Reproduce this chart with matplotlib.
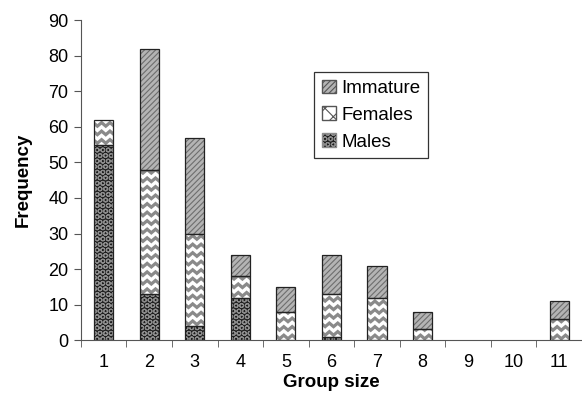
import numpy as np
import matplotlib.pyplot as plt
from matplotlib.lines import Line2D
from matplotlib.patches import Patch

plt.rcParams['font.family'] = ['Liberation Sans', 'DejaVu Sans']
plt.rcParams['hatch.linewidth'] = 0.8

groups = [1, 2, 3, 4, 5, 6, 7, 8, 9, 10, 11]
males = [55, 13, 4, 12, 0, 1, 0, 0, 0, 0, 0]
females = [7, 35, 26, 6, 8, 12, 12, 3, 0, 0, 6]
immature = [0, 34, 27, 6, 7, 11, 9, 5, 0, 0, 5]

x = np.array(groups)
m = np.array(males)
f = np.array(females)
im = np.array(immature)
w = 0.42

fig = plt.figure(figsize=(5.82, 3.96), dpi=100)
ax = fig.add_axes([0.139, 0.141, 0.861, 0.808])


def zigzag_fill(ax, bars):
    # wavy pattern drawn as zigzag lines clipped to each bar
    for b in bars:
        x0, y0 = b.get_x(), b.get_y()
        bw, bh = b.get_width(), b.get_height()
        if bh <= 0:
            continue
        xs = np.linspace(x0 - 0.02, x0 + bw + 0.02, 6)
        amp = 0.5
        yy = y0 - 1.5
        while yy < y0 + bh + 2.5:
            ys = yy + amp * np.array([(-1) ** k for k in range(len(xs))])
            ln = Line2D(xs, ys, color='#8a8a8a', lw=2.3, zorder=2.5,
                        solid_joinstyle='miter')
            ax.add_line(ln)
            ln.set_clip_path(b)
            yy += 2.4


# males
bm = ax.bar(x, m, w, color='#1e1e1e', edgecolor='#8c8c8c', hatch='OOO', lw=0, zorder=2)
# females
bf = ax.bar(x, f, w, bottom=m, color='white', lw=0, zorder=2)
zigzag_fill(ax, bf)
# immature
bi = ax.bar(x, im, w, bottom=m + f, color='#b4b4b4', edgecolor='#6e6e6e', hatch='//////', lw=0, zorder=2)

# outlines
for vals, bot in [(m, 0), (f, m), (im, m + f)]:
    v = np.array(vals)
    ax.bar(x[v > 0], v[v > 0], w, bottom=(np.zeros_like(v) + bot)[v > 0],
           fill=False, edgecolor='#222222', lw=0.9, zorder=3)

ax.set_xlim(0.5, 11.5)
ax.set_ylim(0, 90)
ax.set_yticks(range(0, 91, 10))
ax.set_xticks(x)
ax.set_xticks(np.arange(0.5, 12, 1), minor=True)
ax.tick_params(axis='x', which='major', length=0, pad=10, labelsize=13)
ax.tick_params(axis='x', which='minor', length=5, direction='out')
ax.tick_params(axis='y', length=5, direction='out', labelsize=13, pad=4)
for s in ['left', 'bottom']:
    ax.spines[s].set_color('#555555')
ax.tick_params(colors='#555555', labelcolor='black', which='both')
ax.spines['top'].set_visible(False)
ax.spines['right'].set_visible(False)
ax.set_xlabel('Group size', fontweight='bold', fontsize=13.5, labelpad=2)
ax.set_ylabel('Frequency', fontweight='bold', fontsize=13.5, labelpad=12)

handles = [
    Patch(facecolor='#b4b4b4', edgecolor='#555555', hatch='//////', label='Immature'),
    Patch(facecolor='white', edgecolor='#555555', hatch='xx', label='Females'),
    Patch(facecolor='#1e1e1e', edgecolor='#8c8c8c', hatch='OOO', label='Males'),
]
leg = ax.legend(handles=handles, loc='upper left', bbox_to_anchor=(0.466, 0.8375),
                fancybox=False, edgecolor='black', borderaxespad=0, fontsize=13.5,
                handlelength=0.75, handleheight=0.75, handletextpad=0.3,
                labelspacing=0.5, borderpad=0.4)
leg.get_frame().set_linewidth(0.9)

plt.savefig('out.png', dpi=100)
